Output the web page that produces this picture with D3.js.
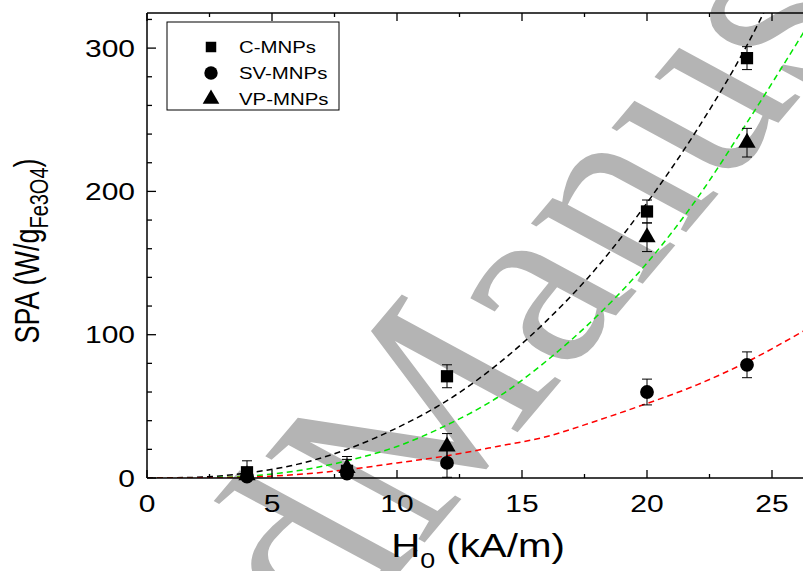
<!DOCTYPE html>
<html>
<head>
<meta charset="utf-8">
<script src="https://cdn.jsdelivr.net/npm/d3@7"></script>
<style>
html,body{margin:0;padding:0;background:#fff;overflow:hidden;}
svg{display:block;}
text{font-family:Arial,"Liberation Sans",Helvetica,sans-serif;}
text.wm{font-family:"Liberation Serif","Times New Roman",serif;}
</style>
</head>
<body>
<script>
// ---- data ----
const fieldH = [4, 8, 12, 20, 24];
const seriesNames = ["C-MNPs", "SV-MNPs", "VP-MNPs"];
const cMNPs = [4, 5, 71, 186, 293];
const cErr = [8, 8, 8, 8, 8];
const svMNPs = [1, 3, 10.5, 60, 79];
const svErr = [4, 5, 10, 9, 9];
const vpMNPs = [2, 7, 22, 168, 234];
const vpErr = [5, 8, 9, 10, 10];

// dashed fit curves
const fitH = [0, 2, 4, 6, 8, 10, 12, 14, 16, 18, 20, 22, 24, 26.3];
const fitC = [0, 0.5, 3.5, 9.5, 20, 35, 54, 79, 110, 147, 192, 243, 302, 385];
const fitVP = [0, 0.1, 1.3, 5, 12, 22, 37, 56, 82, 113, 150, 195, 248, 312];
const fitSV = [0, 0.1, 0.6, 2.4, 5.8, 10.5, 15.5, 22, 29, 40, 52, 65, 81, 103];

const xTicks = [0, 5, 10, 15, 20, 25];
const yTicks = [0, 100, 200, 300];

// ---- layout ----
const W = 803, Hh = 571;
const X0 = 147, X1 = 803, Y0 = 478, Y1 = 13;
const SX = 1.25; // horizontal stretch of the glyphs in the reference

const svg = d3.select("body").append("svg").attr("width", W).attr("height", Hh);

const x = d3.scaleLinear().domain([0, 26.24]).range([X0, X1]);
const y = d3.scaleLinear().domain([0, 324.5]).range([Y0, Y1]);

// watermark
const wm = svg.append("g").attr("transform", "scale(1.25,1) translate(336,548) rotate(-56)");
wm.append("text").attr("class", "wm").attr("text-anchor", "end")
  .attr("font-size", 235).attr("fill", "#b4b4b4").text("Accepted ");
wm.append("text").attr("class", "wm")
  .attr("font-size", 235).attr("fill", "#b4b4b4").text("Manuscript");

const clip = svg.append("clipPath").attr("id", "clip").append("rect")
  .attr("x", X0).attr("y", Y1).attr("width", X1 - X0).attr("height", Y0 - Y1);

// fit curves
const fits = [
  {v: fitC, color: "#000000"},
  {v: fitVP, color: "#00e600"},
  {v: fitSV, color: "#ff0000"}
];
const line = d3.line().curve(d3.curveMonotoneX);
const gFit = svg.append("g").attr("clip-path", "url(#clip)");
fits.forEach(f => {
  gFit.append("path")
    .attr("d", line(fitH.map((h, i) => [x(h), y(f.v[i])])))
    .attr("fill", "none").attr("stroke", f.color)
    .attr("stroke-width", 1.5).attr("stroke-dasharray", "6,4");
});

// axes
const axisG = svg.append("g");
const xMinor = d3.range(0, 26.3, 2.5);
const yMinor = d3.range(0, 325, 20);
axisG.append("line").attr("x1", X0).attr("x2", X1).attr("y1", Y0).attr("y2", Y0).attr("stroke", "#000").attr("stroke-width", 1.5);
axisG.append("line").attr("x1", X0).attr("x2", X1).attr("y1", Y1).attr("y2", Y1).attr("stroke", "#000").attr("stroke-width", 1.5);
axisG.append("line").attr("x1", X0).attr("x2", X0).attr("y1", Y0).attr("y2", Y1).attr("stroke", "#000").attr("stroke-width", 1.5);

xMinor.forEach(v => {
  const major = Math.abs(v % 5) < 1e-6;
  const L = major ? 8 : 4;
  axisG.append("line").attr("x1", x(v)).attr("x2", x(v)).attr("y1", Y0).attr("y2", Y0 - L).attr("stroke", "#000").attr("stroke-width", 1.3);
  axisG.append("line").attr("x1", x(v)).attr("x2", x(v)).attr("y1", Y1).attr("y2", Y1 + L).attr("stroke", "#000").attr("stroke-width", 1.3);
});
yMinor.forEach(v => {
  const major = v % 100 === 0;
  const L = major ? 9 : 5;
  axisG.append("line").attr("x1", X0).attr("x2", X0 + L).attr("y1", y(v)).attr("y2", y(v)).attr("stroke", "#000").attr("stroke-width", 1.3);
});

xTicks.forEach(v => {
  axisG.append("text")
    .attr("transform", `translate(${x(v)},512) scale(${SX},1)`)
    .attr("text-anchor", "middle").attr("font-size", 24).text(v);
});
yTicks.forEach(v => {
  axisG.append("text")
    .attr("transform", `translate(135,${y(v) + 8.5}) scale(${SX},1)`)
    .attr("text-anchor", "end").attr("font-size", 24).text(v);
});

// axis titles
const xt = svg.append("text")
  .attr("transform", `translate(478,557) scale(1.22,1)`)
  .attr("text-anchor", "middle").attr("font-size", 33);
xt.append("tspan").text("H");
xt.append("tspan").attr("font-size", 22).attr("dy", 11).text("0");
xt.append("tspan").attr("dy", -11).text(" (kA/m)");

const yt = svg.append("text")
  .attr("transform", `translate(39,251) scale(1.3,1) rotate(-90)`)
  .attr("text-anchor", "middle").attr("font-size", 27);
yt.append("tspan").text("SPA (W/g");
yt.append("tspan").attr("font-size", 20).attr("dy", 7).text("Fe3O4");
yt.append("tspan").attr("dy", -7).text(")");

// data points with error bars
const symSquare = d3.symbol().type(d3.symbolSquare).size(150);
const symCircle = d3.symbol().type(d3.symbolCircle).size(150);
const symTri = d3.symbol().type(d3.symbolTriangle).size(130);
const series = [
  {v: cMNPs, e: cErr, sym: symSquare},
  {v: svMNPs, e: svErr, sym: symCircle},
  {v: vpMNPs, e: vpErr, sym: symTri}
];
const gPts = svg.append("g");
series.forEach(s => {
  fieldH.forEach((h, i) => {
    const cx = x(h), cy = y(s.v[i]);
    const lo = Math.max(0, s.v[i] - s.e[i]), hi = s.v[i] + s.e[i];
    gPts.append("line").attr("x1", cx).attr("x2", cx).attr("y1", y(lo)).attr("y2", y(hi)).attr("stroke", "#000").attr("stroke-width", 1);
    gPts.append("line").attr("x1", cx - 5).attr("x2", cx + 5).attr("y1", y(hi)).attr("y2", y(hi)).attr("stroke", "#000").attr("stroke-width", 1);
    if (s.v[i] - s.e[i] > 0)
      gPts.append("line").attr("x1", cx - 5).attr("x2", cx + 5).attr("y1", y(lo)).attr("y2", y(lo)).attr("stroke", "#000").attr("stroke-width", 1);
    gPts.append("path").attr("d", s.sym()).attr("transform", `translate(${cx},${cy})`).attr("fill", "#000");
  });
});

// legend
const lg = svg.append("g");
lg.append("rect").attr("x", 167).attr("y", 22).attr("width", 172).attr("height", 88)
  .attr("fill", "#fff").attr("stroke", "#000").attr("stroke-width", 1);
const legSyms = [d3.symbol().type(d3.symbolSquare).size(110), d3.symbol().type(d3.symbolCircle).size(140), d3.symbol().type(d3.symbolTriangle).size(120)];
const legY = [47, 73, 99];
seriesNames.forEach((n, i) => {
  lg.append("path").attr("d", legSyms[i]()).attr("transform", `translate(211,${legY[i]})`).attr("fill", "#000");
  lg.append("text").attr("transform", `translate(239,${legY[i] + 6}) scale(1.2,1)`)
    .attr("font-size", 17).text(n);
});
</script>
</body>
</html>
